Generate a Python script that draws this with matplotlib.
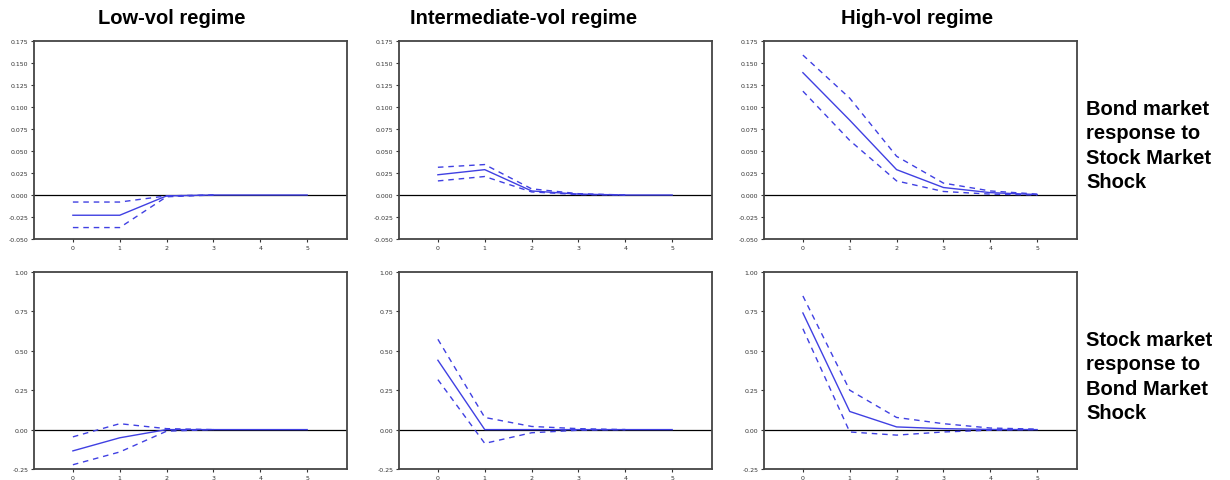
import numpy as np
import matplotlib
matplotlib.use("Agg")
import matplotlib.pyplot as plt

# Horizons (periods after shock)
steps = [0, 1, 2, 3, 4, 5]

regimes = ["Low-vol regime", "Intermediate-vol regime", "High-vol regime"]
row_labels = ["Bond market\nresponse to\nStock Market\nShock",
              "Stock market\nresponse to\nBond Market\nShock"]

# Bond market response to stock market shock (top row)
bond_low = [-0.023, -0.023, -0.001, 0.0, 0.0, 0.0]
bond_low_up = [-0.008, -0.008, -0.001, 0.0]
bond_low_lo = [-0.037, -0.037, -0.002, 0.0]

bond_mid = [0.023, 0.0288, 0.0046, 0.001, 0.0, 0.0]
bond_mid_up = [0.0315, 0.0346, 0.007, 0.0015, 0.0]
bond_mid_lo = [0.016, 0.021, 0.0035, 0.0005, 0.0]

bond_high = [0.139, 0.085, 0.0288, 0.0085, 0.0027, 0.0005]
bond_high_up = [0.159, 0.110, 0.044, 0.0135, 0.0046, 0.001]
bond_high_lo = [0.118, 0.062, 0.016, 0.004, 0.001, 0.0]

# Stock market response to bond market shock (bottom row)
stock_low = [-0.135, -0.052, 0.0, 0.0, 0.0, 0.0]
stock_low_up = [-0.046, 0.0375, 0.006, 0.0]
stock_low_lo = [-0.223, -0.142, -0.01, 0.0]

stock_mid = [0.44, 0.0, 0.0, 0.0, 0.0, 0.0]
stock_mid_up = [0.573, 0.077, 0.02, 0.006, 0.0]
stock_mid_lo = [0.317, -0.0875, -0.02, -0.004, 0.0]

stock_high = [0.74, 0.115, 0.017, 0.006, 0.001, 0.0]
stock_high_up = [0.848, 0.25, 0.077, 0.0375, 0.01, 0.003]
stock_high_lo = [0.64, -0.015, -0.035, -0.015, -0.004, 0.0]

panels = [
    [(bond_low, bond_low_up, bond_low_lo),
     (bond_mid, bond_mid_up, bond_mid_lo),
     (bond_high, bond_high_up, bond_high_lo)],
    [(stock_low, stock_low_up, stock_low_lo),
     (stock_mid, stock_mid_up, stock_mid_lo),
     (stock_high, stock_high_up, stock_high_lo)],
]

top_yticks = [-0.050, -0.025, 0.000, 0.025, 0.050, 0.075, 0.100, 0.125, 0.150, 0.175]
bottom_yticks = [-0.25, 0.00, 0.25, 0.50, 0.75, 1.00]

blue = "#4040e2"
W, H = 1230, 481
fig = plt.figure(figsize=(W / 100, H / 100), dpi=100)

lefts = [34, 399, 764]
width = 313
rows = [(42, 240), (273, 470)]

for r in range(2):
    top, bot = rows[r]
    for c in range(3):
        ax = fig.add_axes([lefts[c] / W, 1 - bot / H, width / W, (bot - top) / H])
        mid, up, lo = panels[r][c]
        ax.axhline(0, color="black", lw=0.9, zorder=1)
        ax.plot(steps[:len(up)], up, color=blue, lw=1.0, ls=(0, (4, 3.5)), zorder=2)
        ax.plot(steps[:len(lo)], lo, color=blue, lw=1.0, ls=(0, (4, 3.5)), zorder=2)
        ax.plot(steps, mid, color=blue, lw=1.0, zorder=3)
        ax.set_xlim(-0.83, 5.85)
        if r == 0:
            ax.set_ylim(-0.05, 0.175)
            ax.set_yticks(top_yticks)
            ax.set_yticklabels(["%.3f" % v for v in top_yticks])
        else:
            ax.set_ylim(-0.25, 1.00)
            ax.set_yticks(bottom_yticks)
            ax.set_yticklabels(["%.2f" % v for v in bottom_yticks])
        ax.set_xticks(steps)
        ax.tick_params(direction="out", length=2.5, width=0.8, labelsize=4.5,
                       colors="#333333", pad=1.5)
        for s in ax.spines.values():
            s.set_color("#444444")
            s.set_linewidth(1.3)

# Column titles
title_x = [172, 524, 917]
for x, t in zip(title_x, regimes):
    fig.text(x / W, 1 - 18 / H, t, ha="center", va="center",
             fontsize=14.5, fontweight="bold", family="Liberation Sans")

# Row labels on the right
for y, t in zip([146, 377], row_labels):
    fig.text(1086 / W, 1 - y / H, t, ha="left", va="center",
             fontsize=14.5, fontweight="bold", family="Liberation Sans",
             linespacing=1.35)

fig.savefig("out.png", dpi=100)
